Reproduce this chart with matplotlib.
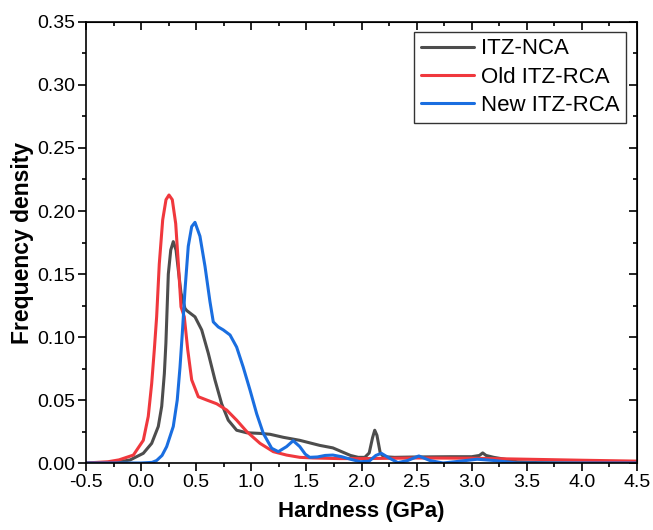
import numpy as np
import matplotlib
matplotlib.use("Agg")
import matplotlib.pyplot as plt
from matplotlib.ticker import MultipleLocator, FormatStrFormatter

plt.rcParams['font.family'] = ['Liberation Sans', 'DejaVu Sans']

# Hardness (GPa) vs frequency density
nca_x = [-0.5, -0.3, -0.2, -0.1, 0.02, 0.096, 0.156, 0.187, 0.211, 0.225, 0.247,
         0.269, 0.292, 0.317, 0.338, 0.362, 0.398, 0.414, 0.489, 0.55, 0.61, 0.67,
         0.731, 0.791, 0.867, 0.958, 1.079, 1.17, 1.29, 1.44, 1.62, 1.74, 1.82, 1.90,
         1.97, 2.03, 2.07, 2.10, 2.12, 2.14, 2.17, 2.2, 2.3, 2.5, 2.8, 3.0, 3.07, 3.1,
         3.13, 3.2, 3.3, 3.41, 3.6, 4.0, 4.5]
nca_y = [0, 0.0004, 0.001, 0.0024, 0.0077, 0.0156, 0.029, 0.045, 0.071, 0.095, 0.150,
         0.169, 0.1757, 0.169, 0.153, 0.135, 0.1227, 0.121, 0.116, 0.1056, 0.087,
         0.066, 0.047, 0.034, 0.026, 0.024, 0.0235, 0.0228, 0.0204, 0.018, 0.014,
         0.012, 0.009, 0.006, 0.0045, 0.0045, 0.008, 0.02, 0.026, 0.022, 0.008, 0.005,
         0.0045, 0.0048, 0.005, 0.005, 0.006, 0.008, 0.006, 0.0045, 0.003, 0.001,
         0.0003, 0, 0]

old_x = [-0.5, -0.3, -0.2, -0.07, 0.02, 0.065, 0.096, 0.12, 0.141, 0.165, 0.196,
         0.226, 0.253, 0.283, 0.314, 0.338, 0.362, 0.392, 0.423, 0.459, 0.519, 0.595,
         0.686, 0.777, 0.867, 0.958, 1.079, 1.2, 1.32, 1.44, 1.56, 1.8, 2.0, 2.5, 3.0,
         3.5, 4.0, 4.5]
old_y = [0, 0.001, 0.0025, 0.0063, 0.018, 0.037, 0.063, 0.09, 0.116, 0.158, 0.193,
         0.209, 0.2127, 0.209, 0.190, 0.158, 0.124, 0.116, 0.090, 0.066, 0.0526, 0.050,
         0.047, 0.042, 0.034, 0.025, 0.0156, 0.009, 0.0063, 0.0045, 0.004, 0.0035,
         0.0035, 0.004, 0.0038, 0.003, 0.0022, 0.0015]

new_x = [-0.5, 0.0, 0.1, 0.141, 0.19, 0.232, 0.292, 0.328, 0.353, 0.374, 0.398,
         0.428, 0.459, 0.489, 0.534, 0.58, 0.625, 0.655, 0.70, 0.746, 0.807, 0.867,
         0.927, 0.988, 1.049, 1.109, 1.185, 1.245, 1.32, 1.38, 1.44, 1.49, 1.53, 1.6,
         1.67, 1.74, 1.82, 1.9, 1.99, 2.07, 2.13, 2.18, 2.25, 2.33, 2.42, 2.52, 2.62,
         2.74, 2.9, 3.05, 3.2, 3.41, 3.6, 4.5]
new_y = [0, 0, 0.0005, 0.002, 0.006, 0.013, 0.029, 0.050, 0.076, 0.103, 0.137, 0.172,
         0.1876, 0.191, 0.180, 0.156, 0.128, 0.112, 0.108, 0.1056, 0.1016, 0.092,
         0.076, 0.058, 0.039, 0.0235, 0.0117, 0.009, 0.013, 0.0177, 0.013, 0.007,
         0.0045, 0.0048, 0.006, 0.0063, 0.005, 0.003, 0.001, 0.0015, 0.006, 0.0077,
         0.004, 0.0003, 0.002, 0.0056, 0.002, 0.0, 0.0015, 0.003, 0.002, 0.0, 0, 0]

series = [("ITZ-NCA", nca_x, nca_y, "#4d4d4d"),
          ("Old ITZ-RCA", old_x, old_y, "#f0383d"),
          ("New ITZ-RCA", new_x, new_y, "#1a6ee0")]

fig = plt.figure(figsize=(6.53, 5.30), dpi=100)
ax = fig.add_axes([0.1317, 0.1264, 0.8438, 0.8321])

for name, xs, ys, col in series:
    ax.plot(xs, ys, color=col, lw=2.2, label=name,
            solid_joinstyle='round', solid_capstyle='round')

ax.set_xlim(-0.5, 4.5)
ax.set_ylim(0, 0.35)
ax.xaxis.set_major_locator(MultipleLocator(0.5))
ax.xaxis.set_minor_locator(MultipleLocator(0.25))
ax.yaxis.set_major_locator(MultipleLocator(0.05))
ax.yaxis.set_minor_locator(MultipleLocator(0.025))
ax.xaxis.set_major_formatter(FormatStrFormatter('%.1f'))
ax.yaxis.set_major_formatter(FormatStrFormatter('%.2f'))
ax.tick_params(which='major', direction='out', length=6, width=1.2,
               labelsize=14, pad=2)
ax.tick_params(which='minor', direction='out', length=3, width=1.2)
for s in ax.spines.values():
    s.set_linewidth(1.2)

# mirrored ticks on top and right pointing inward
top = ax.secondary_xaxis('top')
top.xaxis.set_major_locator(MultipleLocator(0.5))
top.xaxis.set_minor_locator(MultipleLocator(0.25))
top.tick_params(which='major', direction='in', length=6, width=1.2, labeltop=False)
top.tick_params(which='minor', direction='in', length=3, width=1.2)
right = ax.secondary_yaxis('right')
right.yaxis.set_major_locator(MultipleLocator(0.05))
right.yaxis.set_minor_locator(MultipleLocator(0.025))
right.tick_params(which='major', direction='in', length=6, width=1.2, labelright=False)
right.tick_params(which='minor', direction='in', length=3, width=1.2)

ax.set_xlabel("Hardness (GPa)", fontsize=16, fontweight='bold', labelpad=7)
ax.set_ylabel("Frequency density", fontsize=16.5, fontweight='bold', labelpad=2)

leg = ax.legend(loc='upper right', bbox_to_anchor=(0.98, 0.978), fontsize=16,
                frameon=True, fancybox=False, handlelength=2.4, borderpad=0.3,
                labelspacing=0.33, handletextpad=0.3, borderaxespad=0)
leg.get_frame().set_edgecolor('black')
leg.get_frame().set_linewidth(1.0)

fig.savefig("out.png", dpi=100)
